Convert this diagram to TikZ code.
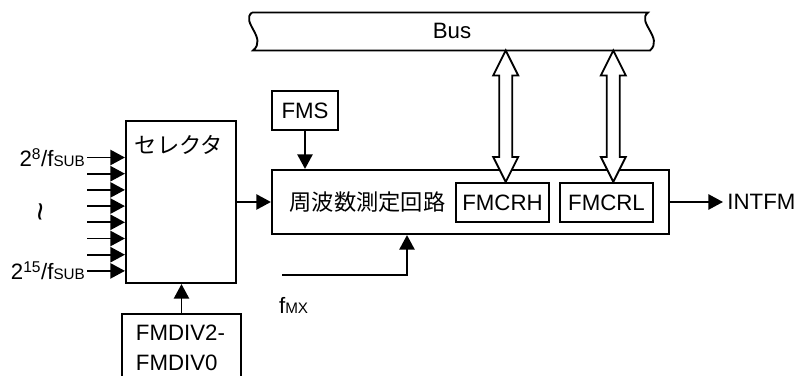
\documentclass[tikz,border=0pt]{standalone}
\usepackage{fontspec}
\setmainfont{Liberation Sans}
\newfontfamily\jpfont{Noto Sans CJK JP}
\usetikzlibrary{arrows.meta,calc}

\newcommand{\piccolo}[1]{{\fontsize{13}{15}\selectfont #1}}
%% freccia doppia verticale tra due punti (alto, basso)
\newcommand{\frecciaDoppia}[2]{%
	\draw[doppia] (#1) -- ($(#1)+(12.5,25)$) -- ($(#1)+(6.5,25)$)
		-- ($(#2)+(6.5,-25)$) -- ($(#2)+(12.5,-25)$) -- (#2)
		-- ($(#2)+(-12.5,-25)$) -- ($(#2)+(-6.5,-25)$)
		-- ($(#1)+(-6.5,25)$) -- ($(#1)+(-12.5,25)$) -- cycle;}

\begin{document}
\begin{tikzpicture}[
		x=0.03cm, y=-0.03cm,
		>={Triangle[length=12.5pt,width=13pt]}, line width=1.6pt,
		font=\fontsize{19}{23}\selectfont,
		blocco/.style={draw, line width=1.8pt, inner sep=0pt},
		segnale/.style={->, line width=1.7pt},
		doppia/.style={line width=1.6pt, fill=white, line join=miter}]
	\useasboundingbox (0,0) rectangle (801,376);
	\def\dy{16.2}
	
	%% bus
	\draw[line width=1.6pt] (252,12.5) -- (648,12.5)
		.. controls (636,22) and (664,38) .. (650,50.5)
		-- (253,50.5)
		.. controls (268,38) and (240,22) .. (252,12.5);
	\node (bus) at (452,31) {Bus};
	
	%% blocchi
	\node[blocco, minimum width=3.3cm, minimum height=4.86cm] (sel) at (181,202) {};
	\node (selTesto) at (179,145) {\jpfont セレクタ};
	\node[blocco, minimum width=11.91cm, minimum height=1.92cm] (circ) at (470.5,202) {};
	\node (circTesto) at (367.5,202) {\jpfont 周波数測定回路};
	\node[blocco, minimum width=2.79cm, minimum height=1.17cm] (fmcrh) at (502.5,202.5) {FMCRH};
	\node[blocco, minimum width=2.79cm, minimum height=1.17cm] (fmcrl) at (606.5,202.5) {FMCRL};
	\node[blocco, minimum width=1.98cm, minimum height=1.17cm] (fms) at (305,110.5) {FMS};
	\node[blocco, anchor=north, minimum width=3.57cm, minimum height=3cm] (fmdiv) at (181.5,313) {};
	\node[anchor=north west, align=left, inner sep=0pt,
		font=\fontsize{19}{25.5}\selectfont] (fmdivTesto) at (135,324) {FMDIV2-\\FMDIV0};
	
	%% ingressi del selettore
	\foreach \i in {0,...,7}{
		\coordinate (in\i) at (87,{157.5+\dy*\i});
		\draw[segnale] (in\i) -- (in\i -| sel.west);
	}
	\node[anchor=east, inner sep=1pt] (ingr0) at (in0) {2\textsuperscript{8}/f\piccolo{SUB}};
	\node[anchor=east, inner sep=1pt] (ingr7) at (in7) {2\textsuperscript{15}/f\piccolo{SUB}};
	\node[rotate=90, font=\fontsize{28}{30}\selectfont] (tilde) at (45,212) {\textasciitilde};
	
	%% collegamenti
	\draw[segnale] (fmdiv.north) -- (fmdiv.north |- sel.south);
	\draw[segnale] (sel.east) -- (circ.west);
	\draw[segnale] (fms.south) -- (fms.south |- circ.north);
	\coordinate (fmx) at (282,275);
	\draw[segnale] (fmx) -| ([xshift=-1.905cm]circ.south);
	\node[anchor=west, inner sep=1pt] (fmxTesto) at (277,305) {f\piccolo{MX}};
	\node[anchor=west, inner sep=3pt] (intfm) at (723,202) {INTFM};
	\draw[segnale] (circ.east) -- (intfm.west);
	
	%% frecce doppie verso il bus
	\coordinate (busA) at (505.7,50.5);
	\coordinate (busB) at (613.3,50.5);
	\frecciaDoppia{busA}{fmcrh.north -| busA}
	\frecciaDoppia{busB}{fmcrl.north -| busB}
\end{tikzpicture}
\end{document}
